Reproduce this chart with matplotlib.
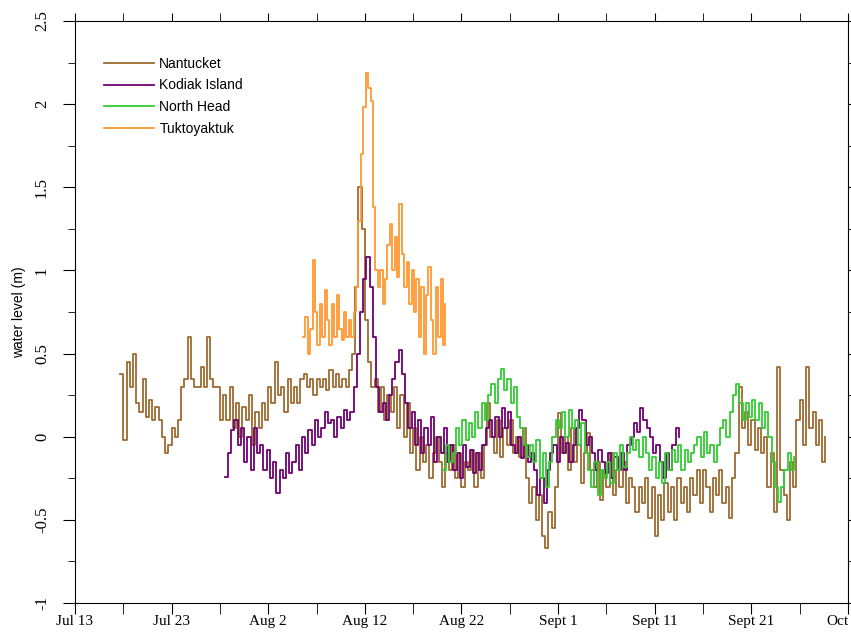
import matplotlib
matplotlib.use("Agg")
import matplotlib.pyplot as plt
import numpy as np
import pandas as pd

# station names and colours
names = ["Nantucket", "Kodiak Island", "North Head", "Tuktoyaktuk"]
colors = ["#9C6A30", "#6E0073", "#33CC33", "#FF9933"]

# water level (m), 8-hourly readings
brown_start = "2019-07-17 16:00"
brown = [
    0.38, -0.02, 0.45, 0.3, 0.5, 0.2, 0.15, 0.35, 0.12, 0.22, 0.1, 0.18,
    0.1, 0.0, -0.1, -0.05, 0.05, 0.0, 0.1, 0.3, 0.35, 0.6, 0.35, 0.3,
    0.3, 0.42, 0.3, 0.6, 0.35, 0.3, 0.3, 0.1, 0.25, 0.1, 0.3, 0.05,
    0.2, 0.0, 0.18, 0.1, 0.25, -0.05, 0.15, 0.05, 0.2, 0.1, 0.3, 0.2,
    0.45, 0.25, 0.3, 0.15, 0.35, 0.2, 0.3, 0.2, 0.35, 0.38, 0.3, 0.35,
    0.25, 0.35, 0.3, 0.35, 0.28, 0.4, 0.3, 0.38, 0.3, 0.35, 0.3, 0.4,
    0.5, 0.9, 1.5, 1.25, 0.7, 0.45, 0.3, 0.35, 0.15, 0.3, 0.1, 0.25,
    0.15, 0.3, 0.05, 0.25, 0.0, 0.2, -0.1, 0.05, -0.2, 0.0, -0.15, -0.05,
    -0.25, -0.1, 0.0, -0.15, -0.3, -0.1, -0.2, -0.05, -0.25, -0.1, -0.3, -0.15,
    -0.2, -0.08, -0.3, -0.1, -0.25, -0.05, 0.2, 0.0, -0.1, 0.1, -0.12, 0.05,
    -0.05, 0.1, -0.1, 0.0, -0.12, 0.05, -0.25, -0.4, -0.3, -0.5, -0.35, -0.6,
    -0.67, -0.45, -0.55, -0.3, 0.14, -0.1, 0.0, -0.2, 0.05, -0.15, -0.05, -0.28,
    -0.1, 0.02, -0.2, -0.3, -0.15, -0.38, -0.2, -0.3, -0.1, -0.35, -0.2, -0.3,
    -0.15, -0.4, -0.25, -0.3, -0.45, -0.3, -0.4, -0.25, -0.49, -0.3, -0.6, -0.35,
    -0.5, -0.28, -0.45, -0.3, -0.5, -0.25, -0.4, -0.3, -0.45, -0.25, -0.35, -0.2,
    -0.4, -0.2, -0.3, -0.45, -0.25, -0.35, -0.2, -0.4, -0.3, -0.49, -0.25, -0.1,
    0.3, 0.05, 0.15, -0.05, 0.1, -0.08, 0.05, -0.1, 0.0, -0.3, -0.1, -0.45,
    0.42, -0.2, -0.35, -0.5, -0.15, -0.3, 0.1, 0.22, -0.05, 0.42, 0.05, 0.15,
    -0.05, 0.1, -0.15, 0.0,
]

purple_start = "2019-07-28 12:00"
purple = [
    -0.24, -0.1, 0.04, 0.1, -0.05, 0.05, -0.15, 0.0, -0.2, 0.05, -0.1, -0.05,
    -0.2, -0.08, -0.25, -0.15, -0.34, -0.2, -0.25, -0.1, -0.22, -0.15, -0.05, -0.2,
    0.0, -0.1, 0.04, -0.05, 0.1, 0.0, 0.05, 0.15, 0.08, 0.1, 0.0, 0.12,
    0.05, 0.16, 0.1, 0.15, 0.3, 0.5, 0.75, 0.95, 1.08, 0.9, 0.6, 0.3,
    0.15, 0.2, 0.1, 0.25, 0.35, 0.45, 0.52, 0.38, 0.2, 0.05, 0.15, -0.05,
    0.1, -0.1, 0.05, -0.05, 0.12, -0.15, 0.0, -0.1, 0.05, -0.15, -0.05, -0.2,
    -0.1, -0.25, -0.05, -0.18, -0.08, -0.22, -0.1, -0.2, -0.05, 0.05, 0.1, 0.0,
    0.12, 0.0, 0.17, 0.05, 0.15, -0.05, -0.1, 0.0, -0.13, -0.05, -0.15, -0.1,
    -0.2, -0.35, -0.25, -0.4, -0.2, -0.1, -0.05, -0.15, 0.0, -0.1, -0.04, -0.15,
    -0.05, 0.05, 0.16, 0.1, -0.05, 0.0, -0.1, -0.2, -0.08, -0.15, -0.22, -0.1,
    -0.25, -0.12, -0.2, -0.1, -0.2, -0.05, 0.0, 0.08, 0.03, 0.17, 0.1, 0.05,
    0.0, -0.1, -0.05, -0.15, -0.25, -0.1, -0.2, -0.05, 0.05, 0.0,
]

green_start = "2019-08-20 02:00"
green = [
    -0.2, -0.05, -0.15, -0.1, 0.05, -0.05, 0.1, -0.02, 0.08, 0.0, 0.15, 0.05,
    0.2, 0.1, 0.25, 0.32, 0.2, 0.35, 0.41, 0.28, 0.35, 0.2, 0.3, 0.12,
    0.05, -0.05, -0.12, -0.05, -0.15, -0.02, -0.25, -0.1, -0.3, -0.15, 0.0, 0.1,
    0.05, 0.15, 0.0, 0.16, 0.05, 0.1, -0.05, 0.08, -0.1, -0.2, -0.3, -0.15,
    -0.35, -0.2, -0.25, -0.15, -0.28, -0.1, -0.2, -0.05, -0.18, -0.1, 0.0, -0.08,
    -0.02, -0.12, 0.0, -0.1, -0.2, -0.12, -0.25, -0.15, -0.28, -0.1, -0.2, -0.08,
    -0.15, -0.05, -0.2, -0.08, -0.15, -0.1, -0.05, 0.0, -0.12, 0.03, -0.1, -0.05,
    -0.15, -0.05, 0.05, 0.1, 0.0, 0.15, 0.25, 0.32, 0.2, 0.1, 0.2, 0.12,
    0.22, 0.1, 0.2, 0.05, 0.15, 0.0, -0.15, -0.3, -0.39, -0.3, -0.2, -0.1,
    -0.2, -0.12,
]

# 6-hourly
orange_start = "2019-08-05 14:00"
orange = [
    0.6, 0.72, 0.5, 0.65, 1.06, 0.75, 0.55, 0.8, 0.6, 0.88, 0.7, 0.55,
    0.8, 0.6, 0.85, 0.65, 0.58, 0.75, 0.6, 0.7, 0.6, 0.75, 0.9, 1.3,
    1.7, 1.98, 2.19, 2.1, 2.02, 1.38, 1.0, 0.9, 1.0, 0.8, 0.95, 1.15,
    1.28, 1.0, 1.2, 0.96, 1.4, 1.1, 0.9, 1.05, 0.8, 1.0, 0.75, 0.95,
    0.6, 0.9, 0.5, 0.85, 1.02, 0.7, 0.5, 0.9, 0.6, 0.95, 0.55, 0.8,
]

tick_dates = ["2019-07-13", "2019-07-23", "2019-08-02", "2019-08-12", "2019-08-22",
              "2019-09-01", "2019-09-11", "2019-09-21", "2019-10-01"]
minor_dates = ["2019-07-18", "2019-07-28", "2019-08-07", "2019-08-17",
               "2019-08-27", "2019-09-06", "2019-09-16", "2019-09-26"]
tick_labels = ["Jul 13", "Jul 23", "Aug 2", "Aug 12", "Aug 22",
               "Sept 1", "Sept 11", "Sept 21", "Oct"]
ytick_vals = [-1, -0.5, 0, 0.5, 1, 1.5, 2, 2.5]
ytick_labels = ["-1", "-0.5", "0", "0.5", "1", "1.5", "2", "2.5"]


def main():
    fig = plt.figure(figsize=(8.51, 6.33), dpi=100)
    ax = fig.add_axes([0.0881, 0.0474, 0.9084, 0.9194])

    series = [(brown_start, "8h", brown), (purple_start, "8h", purple),
              (green_start, "8h", green), (orange_start, "6h", orange)]
    for (start, freq, vals), name, c in zip(series, names, colors):
        t = pd.date_range(start, periods=len(vals), freq=freq)
        ax.plot(t, vals, drawstyle="steps-post", color=c, lw=1.3, label=name)

    ax.set_xlim(pd.Timestamp("2019-07-13"), pd.Timestamp("2019-10-01"))
    ax.set_ylim(-1, 2.5)

    ax.set_xticks(pd.to_datetime(tick_dates))
    ax.set_xticklabels(tick_labels, family="Liberation Serif", fontsize=11)
    ax.get_xticklabels()[-1].set_ha("right")
    ax.set_xticks(pd.to_datetime(minor_dates), minor=True)
    ax.set_yticks(ytick_vals)
    ax.set_yticklabels(ytick_labels, family="Liberation Serif", fontsize=12,
                       rotation=90, va="center")
    ax.set_yticks(np.arange(-0.75, 2.5, 0.5), minor=True)

    ax.tick_params(axis="x", which="both", direction="out", length=8,
                   top=True, labeltop=False, pad=1)
    ax.tick_params(axis="y", which="major", direction="out", length=9,
                   right=True, pad=9)
    ax.tick_params(axis="y", which="minor", direction="out", length=5, right=True)
    # shorter ticks along the top edge
    for tk in ax.xaxis.get_major_ticks() + ax.xaxis.get_minor_ticks():
        tk.tick2line.set_markersize(6)

    ax.set_ylabel("water level (m)", family="Liberation Sans", fontsize=10, labelpad=6)

    ax.legend(loc="upper left", bbox_to_anchor=(0.021, 0.96), frameon=False,
              handlelength=3.6, handletextpad=0.4, labelspacing=0.55,
              prop={"family": "Liberation Sans", "size": 10})

    fig.savefig("out.png", dpi=100)


if __name__ == "__main__":
    main()
